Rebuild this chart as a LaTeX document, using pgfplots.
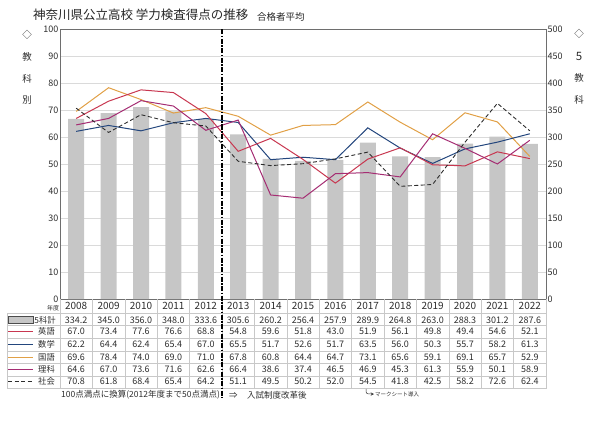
\documentclass[border=0pt]{standalone}
\usepackage{pgfplots}
\pgfplotsset{compat=1.18}
\usepackage{pgfplotstable}
\usepackage{fontspec}
\setmainfont{Noto Sans CJK JP}

\definecolor{cEng}{RGB}{200,55,80}
\definecolor{cMath}{RGB}{35,70,125}
\definecolor{cJap}{RGB}{225,160,70}
\definecolor{cSci}{RGB}{165,45,115}
\definecolor{cSoc}{RGB}{45,45,45}
\definecolor{cBar}{RGB}{198,198,198}
\definecolor{cGrid}{RGB}{218,218,218}
\definecolor{cFrame}{RGB}{110,110,110}
\definecolor{cTab}{RGB}{200,200,200}
\definecolor{cTxt}{RGB}{45,45,45}

% x year total eng math jap sci soc
\pgfplotstableread{
x year total eng math jap sci soc
0 2008 334.2 67.0 62.2 69.6 64.6 70.8
1 2009 345.0 73.4 64.4 78.4 67.0 61.8
2 2010 356.0 77.6 62.4 74.0 73.6 68.4
3 2011 348.0 76.6 65.4 69.0 71.6 65.4
4 2012 333.6 68.8 67.0 71.0 62.6 64.2
5 2013 305.6 54.8 65.5 67.8 66.4 51.1
6 2014 260.2 59.6 51.7 60.8 38.6 49.5
7 2015 256.4 51.8 52.6 64.4 37.4 50.2
8 2016 257.9 43.0 51.7 64.7 46.5 52.0
9 2017 289.9 51.9 63.5 73.1 46.9 54.5
10 2018 264.8 56.1 56.0 65.6 45.3 41.8
11 2019 263.0 49.8 50.3 59.1 61.3 42.5
12 2020 288.3 49.4 55.7 69.1 55.9 58.2
13 2021 301.2 54.6 58.2 65.7 50.1 72.6
14 2022 287.6 52.1 61.3 52.9 58.9 62.4
}\data

\begin{document}
\begin{tikzpicture}
\path[use as bounding box] (0,0) rectangle (600pt,424pt);
\pgfplotsset{
  base/.style={scale only axis, width=486pt, height=269.5pt,
    at={(60pt,125pt)}, anchor=south west,
    xmin=-0.5, xmax=14.5, xtick=\empty, major tick length=0pt,
    tick label style={font=\fontsize{9}{9}\selectfont, text=cTxt, inner sep=1.5pt},
    /pgf/number format/assume math mode=true},
  tabrow/.style={draw=none, mark=none, nodes near coords, point meta=explicit symbolic,
    every node near coord/.append style={anchor=center, inner sep=0pt, text=cTxt,
      font=\fontsize{9}{9}\selectfont}},
}

% bars on the 5-subject scale (right)
\begin{axis}[base, ymin=0, ymax=500, ytick={0,50,...,500},
  ytick pos=right, yticklabel pos=right,
  ymajorgrids, grid style={cGrid, line width=0.6pt},
  axis line style={cFrame, line width=0.7pt}]
\addplot[ybar, bar width=16pt, fill=cBar, draw=none] table[x=x, y=total] {\data};
\end{axis}

% subject lines (left) and the table values
\begin{axis}[base, ymin=0, ymax=100, ytick={0,10,...,100},
  ytick pos=left, axis line style={draw=none}, clip=false]
\addplot[cJap, line width=1pt] table[x=x, y=jap] {\data};
\addplot[cMath, line width=1pt] table[x=x, y=math] {\data};
\addplot[cEng, line width=1pt] table[x=x, y=eng] {\data};
\addplot[cSci, line width=1pt] table[x=x, y=sci] {\data};
\addplot[cSoc, line width=0.9pt, dash pattern=on 4pt off 2.5pt] table[x=x, y=soc] {\data};

\addplot[tabrow, every node near coord/.append style={font=\fontsize{10}{10}\selectfont}]
  table[x=x, y expr=-2.55, meta=year] {\data};
\addplot[tabrow] table[x=x, y expr=-7.79, meta=total] {\data};
\addplot[tabrow] table[x=x, y expr=-12.13, meta=eng] {\data};
\addplot[tabrow] table[x=x, y expr=-16.81, meta=math] {\data};
\addplot[tabrow] table[x=x, y expr=-21.63, meta=jap] {\data};
\addplot[tabrow] table[x=x, y expr=-26.08, meta=sci] {\data};
\addplot[tabrow] table[x=x, y expr=-30.69, meta=soc] {\data};
\end{axis}

% page decorations, coordinates in pixels from the top left
\begin{scope}[x=1pt, y=-1pt, shift={(0,424pt)}]
  \node[anchor=west, inner sep=0pt, font=\fontsize{12.5}{13}\selectfont, text=black!85] at (33,15) {神奈川県公立高校 学力検査得点の推移};
  \node[anchor=west, inner sep=0pt, font=\fontsize{9.5}{10}\selectfont, text=black!85] at (257,16.5) {合格者平均};

  \begin{scope}[every node/.style={font=\fontsize{9.5}{10}\selectfont, text=cTxt, inner sep=0pt}]
    \node at (27,35) {◇};
    \node at (27,57) {教};
    \node at (27,79) {科};
    \node at (27,100) {別};
    \node at (579,34) {◇};
    \node[font=\fontsize{11.5}{12}\selectfont] at (579,56) {5};
    \node at (579,78) {教};
    \node at (579,100) {科};
  \end{scope}

  % table rules
  \foreach \y in {313,325.6,338.2,350.8,363.4,376,388.6}
    \draw[cTab, line width=0.5pt] (7,\y) -- (546,\y);
  \foreach \k in {0,...,15}
    \draw[cTab, line width=0.5pt] ({60+32.4*\k},299) -- ({60+32.4*\k},388.6);
  \draw[cTab, line width=0.5pt] (7,313) -- (7,388.6);

  % row headers
  \node[font=\fontsize{6}{6}\selectfont, text=cTxt, inner sep=0pt] at (53,308) {年度};
  \draw[fill=cBar, draw=black!70, line width=0.5pt] (8,316.5) rectangle (33,323.5);
  \begin{scope}[every node/.style={font=\fontsize{8.3}{9}\selectfont, text=cTxt, inner sep=0pt}]
    \node at (45,320) {5科計};
    \node at (46.5,331.7) {英語};
    \node at (46.5,344.3) {数学};
    \node at (46.5,357.3) {国語};
    \node at (46.5,369.3) {理科};
    \node at (46.5,381.7) {社会};
  \end{scope}
  \draw[cEng, line width=1pt] (8,331.7) -- (33,331.7);
  \draw[cMath, line width=1pt] (8,344.3) -- (33,344.3);
  \draw[cJap, line width=1pt] (8,357.3) -- (33,357.3);
  \draw[cSci, line width=1pt] (8,369.3) -- (33,369.3);
  \draw[cSoc, line width=1pt, dash pattern=on 4pt off 2.5pt] (8,381.7) -- (33,381.7);

  % system change marker
  \draw[black, line width=1.1pt, dash pattern=on 5pt off 1.5pt on 1.5pt off 1.5pt] (222,29.5) -- (222,398);

  % footnotes
  \begin{scope}[every node/.style={font=\fontsize{8.5}{9}\selectfont, text=cTxt, inner sep=0pt, anchor=west}]
    \node at (61,395) {100点満点に換算(2012年度まで50点満点)};
    \node at (229,395) {⇒};
    \node at (247,395) {入試制度改革後};
  \end{scope}
  \draw[cTxt, line width=0.5pt, ->, >=stealth] (366,389) .. controls (366,394) .. (374,394);
  \node[anchor=west, inner sep=0pt, font=\fontsize{5.5}{6}\selectfont, text=cTxt] at (375,394) {マークシート導入};
\end{scope}
\end{tikzpicture}
\end{document}
